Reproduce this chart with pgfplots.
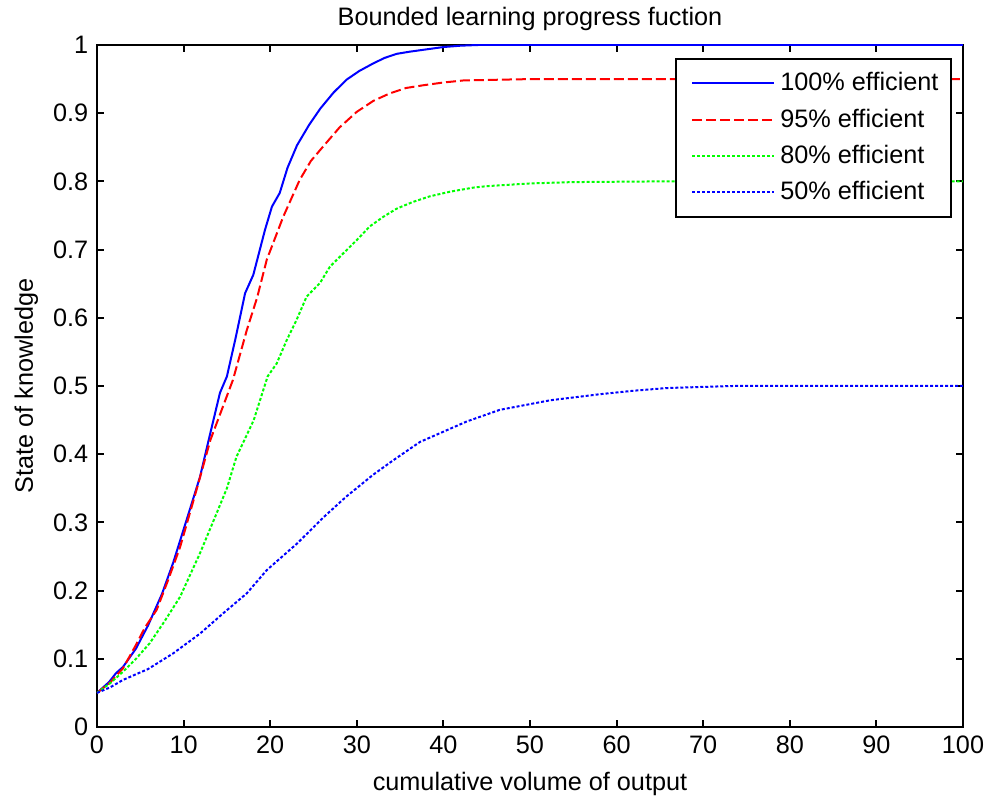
\documentclass[border=0pt]{standalone}
\usepackage{fontspec}
\setmainfont{Liberation Sans}
\usepackage{pgfplots}
\pgfplotsset{compat=1.18}
\usetikzlibrary{calc}
\newcommand\ff{\fontsize{10.1}{12.1}\selectfont}

\begin{document}
\begin{tikzpicture}
\begin{axis}[
  scale only axis, width=346.4pt, height=272.8pt,
  xmin=0, xmax=100, ymin=0, ymax=1,
  xtick={0,10,...,100}, ytick={0,0.1,...,1},
  /pgf/number format/assume math mode=true,
  yticklabel style={/pgf/number format/fixed},
  tick label style={font=\ff},
  tick align=inside, major tick length=2.8pt,
  every tick/.style={black, line width=0.8pt},
  axis line style={line width=0.8pt},
  every axis title shift=0pt,
  title={Bounded learning progress fuction},
  title style={font=\ff, at={(axis description cs:0.5,1.0293)}, anchor=base},
  xlabel={cumulative volume of output},
  xlabel style={font=\ff, at={(axis description cs:0.5,-0.0924)}, anchor=base},
  ylabel={State of knowledge},
  ylabel style={font=\ff, at={(axis description cs:-0.074,0.5)}, anchor=base},
  legend style={font=\ff, draw=black, line width=0.8pt, fill=white,
    at={(axis description cs:0.9873,0.981)}, anchor=north east,
    inner xsep=3pt, inner ysep=3.4pt, row sep=1.7pt},
  legend cell align=left,
  legend image code/.code={\path (-4.4pt,0pt); \draw[#1] (-1.2pt,0pt) -- (31.6pt,0pt);},
  every axis plot/.append style={line width=0.8pt},
]
\addplot[blue, solid] coordinates {
 (0,0.05) (1.4,0.066) (2.2,0.079) (3,0.088) (4.5,0.115) (5.9,0.149) (7.5,0.195)
 (8.8,0.241) (10.7,0.318) (11.9,0.367) (12.9,0.421) (14.2,0.49) (15,0.514)
 (16,0.57) (17.1,0.636) (18.05,0.663) (19.4,0.729) (20.2,0.763) (21.1,0.783)
 (22,0.82) (23.1,0.853) (24.5,0.883) (25.8,0.907) (27.3,0.93) (28.8,0.949)
 (30.3,0.962) (31.9,0.973) (33.2,0.981) (34.6,0.987) (36,0.99) (37.7,0.993)
 (40,0.997) (42,0.999) (44,1) (100,1)};
\addlegendentry{100\% efficient}
\addplot[red, dash pattern=on 4pt off 1.6pt] coordinates {
 (0,0.05) (1.5,0.065) (3,0.086) (4.4,0.118) (5.5,0.145) (6.9,0.172) (8.2,0.215)
 (9.6,0.264) (11.5,0.348) (13.1,0.421) (14.4,0.465) (15.7,0.509) (17.3,0.582)
 (18.5,0.63) (19.6,0.685) (21.5,0.748) (23.4,0.802) (24.7,0.83) (26.1,0.851)
 (28,0.879) (30,0.902) (31.9,0.918) (33.8,0.929) (35.7,0.937) (37.7,0.941)
 (40,0.945) (42.3,0.948) (46,0.949) (50,0.95) (100,0.95)};
\addlegendentry{95\% efficient}
\addplot[green, dash pattern=on 1.2pt off 0.8pt] coordinates {
 (0,0.05) (1.5,0.064) (3,0.081) (4.5,0.1) (6.1,0.123) (7.8,0.155) (9.6,0.191)
 (11.9,0.255) (13.8,0.313) (15,0.35) (16.1,0.396) (18.1,0.45) (19.7,0.514)
 (20.75,0.533) (21.9,0.567) (23.05,0.597) (24.2,0.631) (25.75,0.651)
 (26.9,0.675) (28.4,0.694) (30,0.714) (31.5,0.734) (33.05,0.748) (34.6,0.76)
 (36.5,0.77) (38.4,0.778) (40.8,0.785) (43.5,0.791) (45,0.793) (50,0.797)
 (55,0.799) (65,0.8) (100,0.8)};
\addlegendentry{80\% efficient}
\addplot[blue, dash pattern=on 1.2pt off 0.8pt] coordinates {
 (0,0.05) (1.5,0.058) (3,0.069) (5.9,0.085) (8.8,0.108) (11.9,0.137)
 (14.6,0.167) (17.3,0.196) (19.6,0.23) (23.1,0.269) (26.2,0.308) (28.8,0.338)
 (31.9,0.37) (34.2,0.391) (37.3,0.418) (40,0.433) (42.7,0.448) (46.5,0.465)
 (52.3,0.479) (58.1,0.488) (61.9,0.493) (65.8,0.497) (73.4,0.5) (100,0.5)};
\addlegendentry{50\% efficient}
\coordinate (sw) at (rel axis cs:0,0);
\coordinate (ne) at (rel axis cs:1,1);
\end{axis}
\pgfresetboundingbox
\path ($(sw)+(-38.8pt,-31.2pt)$) rectangle ($(ne)+(11.6pt,18pt)$);
\end{tikzpicture}
\end{document}
